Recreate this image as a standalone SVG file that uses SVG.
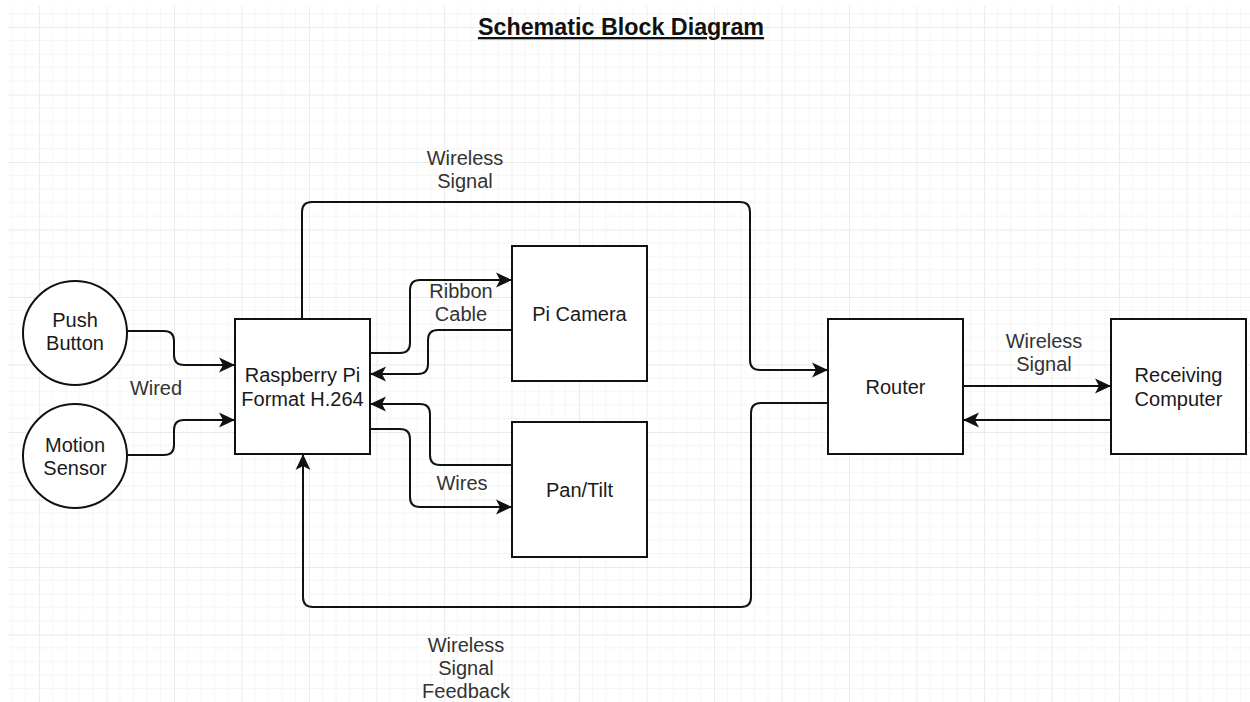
<svg xmlns="http://www.w3.org/2000/svg" width="1250" height="702" viewBox="0 0 1250 702">
<defs>
<pattern id="grid" patternUnits="userSpaceOnUse" x="39" y="27" width="67.5" height="67.5">
<path d="M13.5,0 V67.5 M27,0 V67.5 M40.5,0 V67.5 M54,0 V67.5 M0,13.5 H67.5 M0,27 H67.5 M0,40.5 H67.5 M0,54 H67.5" stroke="#f5f5f5" stroke-width="1" fill="none"/>
<path d="M0,0 V67.5 M0,0 H67.5" stroke="#e4e4e4" stroke-width="1.3" fill="none"/>
</pattern>
<marker id="arr" markerUnits="userSpaceOnUse" markerWidth="16" markerHeight="16" viewBox="0 0 14 14" refX="14" refY="7" orient="auto">
<path d="M0,0.5 L14,7 L0,13.5 L3.5,7 Z" fill="#111"/>
</marker>
<style>
.node { fill: #fff; stroke: #111; stroke-width: 2; }
.t { font-family: "Liberation Sans", Arial, sans-serif; font-size: 20px; fill: #1a1a1a; text-anchor: middle; }
.lbl { font-family: "Liberation Sans", Arial, sans-serif; font-size: 20px; fill: #333; text-anchor: middle; }
.edge { fill: none; stroke: #111; stroke-width: 2; marker-end: url(#arr); }
</style>
</defs>
<rect width="1250" height="702" fill="#fff"/>
<rect x="8" y="6" width="1242" height="696" fill="url(#grid)"/>

<text x="621" y="35" font-family="'Liberation Sans', Arial, sans-serif" font-size="23.3" font-weight="bold" fill="#111" text-anchor="middle" text-decoration="underline">Schematic Block Diagram</text>

<g id="connectors">
<path class="edge" d="M127,331 H164 Q174,331 174,341 V355 Q174,365 184,365 H235"/>
<path class="edge" d="M127,455 H164 Q174,455 174,445 V430 Q174,420 184,420 H235"/>
<path class="edge" d="M370,353 H400 Q410,353 410,343 V290 Q410,280 420,280 H512"/>
<path class="edge" d="M512,330 H438 Q428,330 428,340 V364 Q428,374 418,374 H370"/>
<path class="edge" d="M512,465 H440 Q430,465 430,455 V414 Q430,404 420,404 H370"/>
<path class="edge" d="M370,429 H400 Q410,429 410,439 V497 Q410,507 420,507 H512"/>
<path class="edge" d="M302,319 V212 Q302,202 312,202 H740 Q750,202 750,212 V360 Q750,370 760,370 H828"/>
<path class="edge" d="M828,403 H761 Q751,403 751,413 V597 Q751,607 741,607 H313 Q303,607 303,597 V454"/>
<path class="edge" d="M963,386 H1111"/>
<path class="edge" d="M1111,420 H963"/>
<text class="lbl" x="465" y="165">Wireless</text>
<text class="lbl" x="465" y="188">Signal</text>
<text class="lbl" x="461" y="298">Ribbon</text>
<text class="lbl" x="461" y="321">Cable</text>
<text class="lbl" x="156" y="395">Wired</text>
<text class="lbl" x="462" y="490">Wires</text>
<text class="lbl" x="1044" y="348">Wireless</text>
<text class="lbl" x="1044" y="371">Signal</text>
<text class="lbl" x="466" y="652">Wireless</text>
<text class="lbl" x="466" y="675">Signal</text>
<text class="lbl" x="466" y="698">Feedback</text>
</g>

<g id="push-button">
<circle class="node" cx="75" cy="333" r="52"/>
<text class="t" x="75" y="327">Push</text>
<text class="t" x="75" y="350">Button</text>
</g>
<g id="motion-sensor">
<circle class="node" cx="75" cy="456" r="52"/>
<text class="t" x="75" y="452">Motion</text>
<text class="t" x="75" y="475">Sensor</text>
</g>
<g id="raspberry-pi">
<rect class="node" x="235" y="319" width="135" height="135"/>
<text class="t" x="302.5" y="382">Raspberry Pi</text>
<text class="t" x="302.5" y="406">Format H.264</text>
</g>
<g id="pi-camera">
<rect class="node" x="512" y="246" width="135" height="135"/>
<text class="t" x="579.5" y="321">Pi Camera</text>
</g>
<g id="pan-tilt">
<rect class="node" x="512" y="422" width="135" height="135"/>
<text class="t" x="579.5" y="497">Pan/Tilt</text>
</g>
<g id="router">
<rect class="node" x="828" y="319" width="135" height="135"/>
<text class="t" x="895.5" y="394">Router</text>
</g>
<g id="receiving-computer">
<rect class="node" x="1111" y="319" width="135" height="135"/>
<text class="t" x="1178.5" y="382">Receiving</text>
<text class="t" x="1178.5" y="406">Computer</text>
</g>
</svg>
